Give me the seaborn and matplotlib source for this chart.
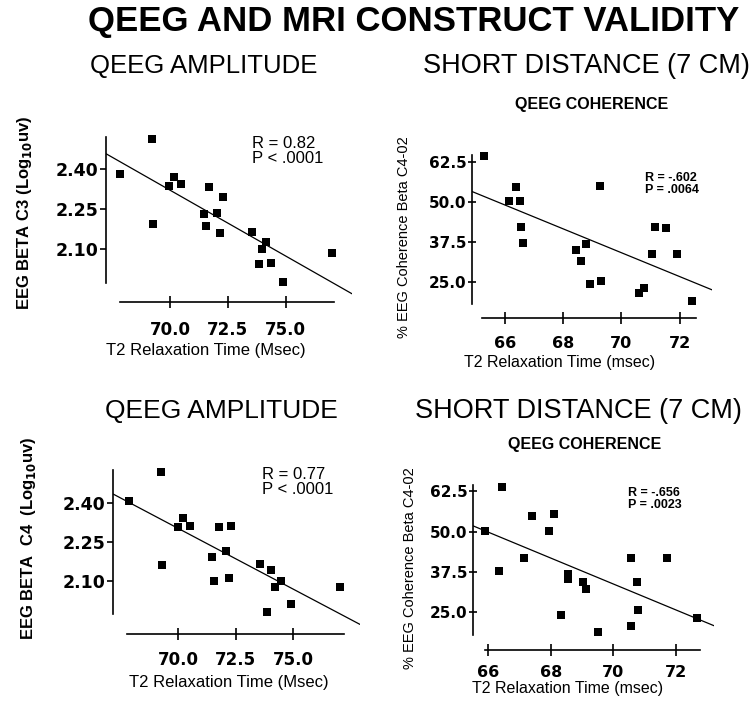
import numpy as np
import pandas as pd
import matplotlib
matplotlib.use("Agg")
import matplotlib.pyplot as plt
import seaborn as sns

# ---------------- data ----------------
c3_t2 = [67.84, 69.21, 69.25, 69.97, 70.17, 70.49, 71.70, 71.47, 71.54, 72.02,
         72.29, 72.15, 73.53, 74.15, 73.99, 73.86, 74.37, 74.90, 76.99]
c3_beta = [2.380, 2.512, 2.193, 2.336, 2.369, 2.344, 2.331, 2.231, 2.187, 2.236,
           2.295, 2.161, 2.165, 2.125, 2.101, 2.043, 2.049, 1.977, 2.084]

coh1_t2 = [65.29, 66.13, 66.39, 66.50, 66.56, 66.61, 68.45, 68.61, 68.77, 68.93,
           69.28, 69.29, 70.61, 70.79, 71.05, 71.15, 71.53, 71.91, 72.43]
coh1_val = [64.3, 50.4, 54.6, 50.4, 42.0, 37.2, 34.8, 31.6, 36.7, 24.3,
            55.0, 25.3, 21.4, 22.9, 33.8, 42.2, 41.7, 33.6, 18.9]

c4_t2 = [67.87, 69.23, 69.30, 69.99, 70.19, 70.52, 71.48, 71.55, 71.76, 72.07,
         72.20, 72.30, 73.55, 74.03, 74.45, 74.21, 73.87, 74.90, 77.03]
c4_beta = [2.408, 2.517, 2.160, 2.307, 2.342, 2.310, 2.190, 2.099, 2.307, 2.216,
           2.112, 2.312, 2.165, 2.140, 2.099, 2.076, 1.978, 2.012, 2.076]

coh2_t2 = [65.91, 66.44, 66.33, 67.15, 67.40, 67.95, 68.10, 68.32, 68.54, 68.54,
           69.04, 69.12, 69.50, 70.56, 70.75, 70.79, 70.56, 71.71, 72.66]
coh2_val = [50.2, 63.8, 37.8, 41.9, 54.9, 50.2, 55.5, 24.3, 36.8, 35.2,
            34.4, 32.3, 19.0, 41.9, 34.4, 25.7, 20.9, 41.9, 23.3]

amp_xticks = [70.0, 72.5, 75.0]
amp_yticks = [2.10, 2.25, 2.40]
coh_xticks = [66, 68, 70, 72]
coh_yticks = [25.0, 37.5, 50.0, 62.5]

main_title = "QEEG AND MRI CONSTRUCT VALIDITY"
amp_title = "QEEG AMPLITUDE"
coh_title = "SHORT DISTANCE (7 CM)"
coh_sub = "QEEG COHERENCE"
amp_xlabel = "T2 Relaxation Time (Msec)"
coh_xlabel = "T2 Relaxation Time (msec)"
c3_ylabel = r"EEG BETA C3 (Log$_{\mathbf{10}}$uv)"
c4_ylabel = r"EEG BETA  C4  (Log$_{\mathbf{10}}$uv)"
coh_ylabel = "% EEG Coherence Beta C4-02"
stats = ["R = 0.82\nP < .0001", "R = -.602\nP = .0064",
         "R = 0.77\nP < .0001", "R = -.656\nP = .0023"]

# ---------------- style ----------------
sns.set_theme(style="white")
plt.rcParams["font.family"] = ["Liberation Sans", "DejaVu Sans"]
plt.rcParams["mathtext.fontset"] = "dejavusans"

W, H, DPI = 755, 702, 100
fig = plt.figure(figsize=(W / DPI, H / DPI), dpi=DPI)
fig.patch.set_facecolor("white")


def fx(px):
    return px / W


def fy(py):
    return 1 - py / H


panels = [
    dict(x=c3_t2, y=c3_beta, box=(106, 130, 352, 302), xlim=(67.232, 77.872),
         ylim=(1.901, 2.546), xb=(67.84, 77.10), yb=(1.971, 2.521),
         xt=amp_xticks, yt=amp_yticks, xf="{:.1f}", yf="{:.2f}",
         xl=amp_xlabel, xlp=(206, 350), yl=c3_ylabel, ylp=(25, 213),
         ylbold=True, ydir="out", s=38, xts=12, yts=12.5, st=stats[0],
         stp=(252, 136), stfs=12, stbold=False, xpad=10),
    dict(x=coh1_t2, y=coh1_val, box=(472, 150, 712, 318), xlim=(64.866, 73.113),
         ylim=(13.62, 66.26), xb=(65.22, 72.55), yb=(18.0, 64.7),
         xt=coh_xticks, yt=coh_yticks, xf="{:.0f}", yf="{:.1f}",
         xl=coh_xlabel, xlp=(560, 362), yl=coh_ylabel, ylp=(404, 237),
         ylbold=False, ydir="inout", s=26, xts=11.5, yts=11, st=stats[1],
         stp=(645, 172), stfs=9, stbold=True, xpad=9),
    dict(x=c4_t2, y=c4_beta, box=(113, 465, 360, 634), xlim=(67.161, 77.900),
         ylim=(1.895, 2.545), xb=(67.76, 77.20), yb=(1.972, 2.526),
         xt=amp_xticks, yt=amp_yticks, xf="{:.1f}", yf="{:.2f}",
         xl=amp_xlabel, xlp=(229, 683), yl=c4_ylabel, ylp=(29, 538),
         ylbold=True, ydir="out", s=38, xts=12, yts=12.5, st=stats[2],
         stp=(262, 467), stfs=12, stbold=False, xpad=8),
    dict(x=coh2_t2, y=coh2_val, box=(473, 480, 714, 650), xlim=(65.511, 73.216),
         ylim=(13.32, 66.00), xb=(65.89, 72.77), yb=(17.96, 64.45),
         xt=coh_xticks, yt=coh_yticks, xf="{:.0f}", yf="{:.1f}",
         xl=coh_xlabel, xlp=(568, 689), yl=coh_ylabel, ylp=(410, 568),
         ylbold=False, ydir="inout", s=26, xts=11.5, yts=11, st=stats[3],
         stp=(628, 487), stfs=9, stbold=True, xpad=7),
]

for p in panels:
    l, t, r, b = p["box"]
    ax = fig.add_axes([fx(l), fy(b), (r - l) / W, (b - t) / H])
    ax.set_facecolor("none")
    ax.set_xlim(*p["xlim"])
    ax.set_ylim(*p["ylim"])
    df = pd.DataFrame({"t2": p["x"], "val": p["y"]})
    sns.regplot(data=df, x="t2", y="val", ax=ax, ci=None, truncate=False,
                marker="s",
                scatter_kws=dict(s=p["s"], color="black", linewidths=0, alpha=1),
                line_kws=dict(color="black", lw=0.9))
    ax.set_xlim(*p["xlim"])
    ax.set_ylim(*p["ylim"])
    sns.despine(ax=ax)
    for side in ("left", "bottom"):
        ax.spines[side].set_color("black")
        ax.spines[side].set_linewidth(1.2)
    ax.spines["left"].set_bounds(*p["yb"])
    ax.spines["bottom"].set_bounds(*p["xb"])
    ax.set_xticks(p["xt"])
    ax.set_xticklabels([p["xf"].format(v) for v in p["xt"]])
    ax.set_yticks(p["yt"])
    ax.set_yticklabels([p["yf"].format(v) for v in p["yt"]])
    ax.tick_params(axis="x", direction="inout", length=8, width=1.2,
                   color="black", pad=p["xpad"], labelsize=p["xts"],
                   bottom=True)
    ax.tick_params(axis="y", direction=p["ydir"],
                   length=(4.5 if p["ydir"] == "out" else 6), width=1.2,
                   color="black", pad=1, labelsize=p["yts"], left=True)
    for lab in ax.get_xticklabels() + ax.get_yticklabels():
        lab.set_fontfamily("DejaVu Sans")
        lab.set_fontweight("bold")
        lab.set_color("black")
    ax.grid(False)

    ax.set_xlabel(p["xl"], fontsize=12 if p["ylbold"] else 11.5, color="black")
    ax.xaxis.label.set_va("center")
    ax.xaxis.set_label_coords(fx(p["xlp"][0]), fy(p["xlp"][1]),
                              transform=fig.transFigure)
    ax.set_ylabel(p["yl"], fontsize=12 if p["ylbold"] else 10.5,
                  fontweight="bold" if p["ylbold"] else "normal", color="black")
    ax.yaxis.label.set_va("center")
    ax.yaxis.label.set_ha("center")
    ax.yaxis.set_label_coords(fx(p["ylp"][0]), fy(p["ylp"][1]),
                              transform=fig.transFigure)

    fig.text(fx(p["stp"][0]), fy(p["stp"][1]), p["st"], ha="left", va="top",
             fontsize=p["stfs"], fontweight="bold" if p["stbold"] else "normal",
             linespacing=1.0, color="black")

fig.text(fx(414), fy(21), main_title, ha="center", va="center",
         fontsize=25, fontweight="bold", color="black")
fig.text(fx(204), fy(66), amp_title, ha="center", va="center", fontsize=18.5,
         color="black")
fig.text(fx(586), fy(66), coh_title, ha="center", va="center", fontsize=19.5,
         color="black")
fig.text(fx(592), fy(104), coh_sub, ha="center", va="center", fontsize=11.5,
         fontweight="bold", color="black")
fig.text(fx(221), fy(411), amp_title, ha="center", va="center", fontsize=19,
         color="black")
fig.text(fx(578), fy(411), coh_title, ha="center", va="center", fontsize=19.5,
         color="black")
fig.text(fx(585), fy(445), coh_sub, ha="center", va="center", fontsize=11.5,
         fontweight="bold", color="black")

fig.savefig("out.png", dpi=DPI, facecolor="white")
